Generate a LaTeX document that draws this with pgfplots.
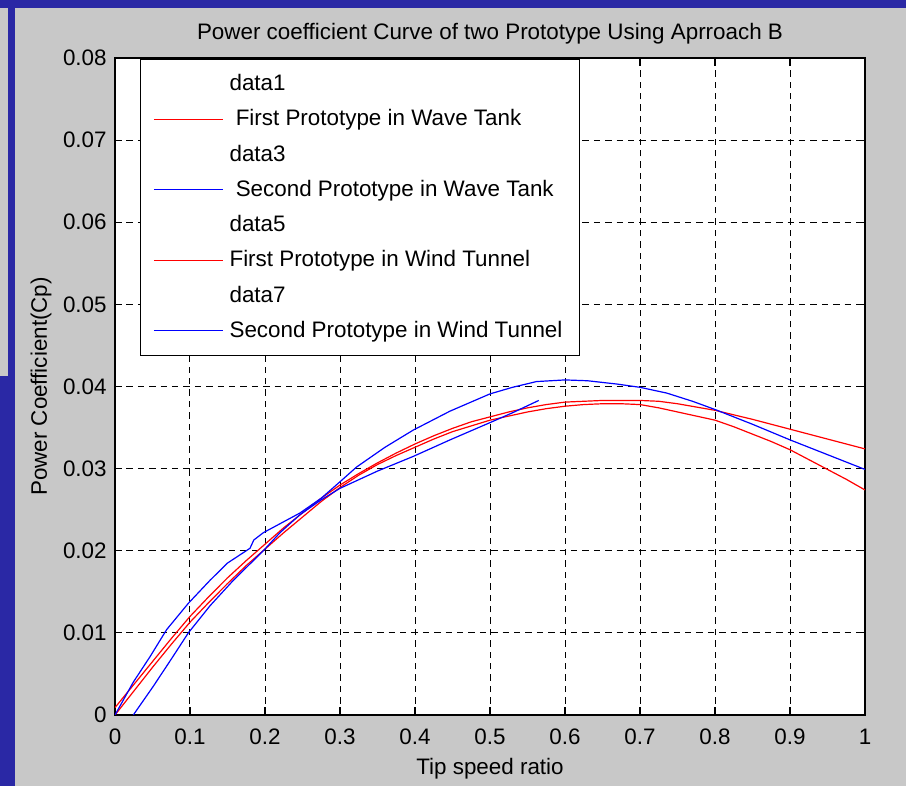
\documentclass[border=0pt]{standalone}
\usepackage{pgfplots}
\pgfplotsset{compat=1.18}
\usepackage{fontspec}
\setmainfont{Liberation Sans}
\definecolor{slideblue}{RGB}{42,40,165}
\definecolor{figgray}{RGB}{200,200,200}
\newcommand{\figfont}{\fontsize{11.2}{13}\selectfont}
% short straight legend samples
\pgfplotsset{
  redkey/.style={legend image code/.code={\path[draw=red, line width=0.6pt] (0pt,0pt) -- (34.5pt,0pt);}},
  bluekey/.style={legend image code/.code={\path[draw=blue, line width=0.6pt] (0pt,0pt) -- (34.5pt,0pt);}},
}

\begin{document}
\begin{tikzpicture}[x=1pt,y=1pt]
% slide background and figure window
\fill[slideblue] (0,0) rectangle (453,393);
\fill[figgray] (0,205) rectangle (4,389);
\fill[figgray] (7.5,0) rectangle (453,389);
\begin{axis}[
  at={(57.5pt,35.5pt)}, anchor=south west,
  scale only axis, width=375pt, height=328.5pt,
  xmin=0, xmax=1, ymin=0, ymax=0.08,
  xtick={0,0.1,0.2,0.3,0.4,0.5,0.6,0.7,0.8,0.9,1},
  xticklabels={0,0.1,0.2,0.3,0.4,0.5,0.6,0.7,0.8,0.9,1},
  ytick={0,0.01,0.02,0.03,0.04,0.05,0.06,0.07,0.08},
  yticklabels={0,0.01,0.02,0.03,0.04,0.05,0.06,0.07,0.08},
  scaled y ticks=false,
  /pgf/number format/assume math mode=true,
  tick align=inside, xtick pos=both, ytick pos=both,
  xticklabel pos=lower, yticklabel pos=left,
  major tick length=3.75pt,
  tick style={black, line width=0.6pt},
  grid=major,
  major grid style={black, line width=0.5pt, dash pattern=on 3.2pt off 2.5pt},
  axis line style={black, line width=0.9pt},
  axis background/.style={fill=white},
  ticklabel style={font=\figfont, inner sep=0pt},
  xticklabel style={anchor=base, yshift=-15pt},
  yticklabel style={anchor=east, xshift=-4pt},
  title={Power coefficient Curve of two Prototype Using Aprroach B},
  title style={at={(0.5,1)}, anchor=base, yshift=3.5pt, inner sep=0pt, font=\figfont},
  xlabel={Tip speed ratio},
  xlabel style={at={(axis description cs:0.5,0)}, anchor=base, yshift=-30pt, inner sep=0pt, font=\figfont},
  ylabel={Power Coefficient(Cp)},
  ylabel style={at={(axis description cs:0,0.5)}, anchor=base, yshift=34pt, inner sep=0pt, font=\figfont},
  legend cell align=left,
  legend style={at={(0.0333,0.9985)}, anchor=north west,
    fill=white, inner xsep=6.5pt, inner ysep=5.5pt, column sep=1pt, row sep=4pt,
    font=\figfont},
  legend image post style={},
]
% legend entries in plotting order
\addlegendimage{empty legend}\addlegendentry{data1}
\addlegendimage{redkey}\addlegendentry{\ First Prototype in Wave Tank}
\addlegendimage{empty legend}\addlegendentry{data3}
\addlegendimage{bluekey}\addlegendentry{\ Second Prototype in Wave Tank}
\addlegendimage{empty legend}\addlegendentry{data5}
\addlegendimage{redkey}\addlegendentry{First Prototype in Wind Tunnel}
\addlegendimage{empty legend}\addlegendentry{data7}
\addlegendimage{bluekey}\addlegendentry{Second Prototype in Wind Tunnel}

% first prototype, wave tank
\addplot[red, line width=0.6pt, forget plot] coordinates {
(0,0.0009) (0.025,0.0037) (0.05,0.0065) (0.075,0.0093) (0.1,0.0120)
(0.125,0.0144) (0.15,0.0167) (0.175,0.0188) (0.2,0.0208) (0.225,0.0228)
(0.25,0.0246) (0.275,0.0264) (0.3,0.0280) (0.325,0.0294) (0.35,0.0307)
(0.375,0.0319) (0.4,0.0330) (0.425,0.0340) (0.45,0.0349) (0.475,0.0357)
(0.5,0.0363) (0.525,0.0369) (0.55,0.0374) (0.575,0.0378) (0.6,0.0381)
(0.625,0.0382) (0.65,0.0383) (0.675,0.0383) (0.7,0.0383) (0.725,0.0382)
(0.75,0.0379) (0.775,0.0375) (0.8,0.0371) (0.85,0.0360) (0.9,0.0348)
(0.95,0.0336) (1.0,0.0324)};
% first prototype, wind tunnel
\addplot[red, line width=0.6pt, forget plot] coordinates {
(0,0.0) (0.025,0.0029) (0.05,0.0058) (0.075,0.0086) (0.1,0.0113)
(0.125,0.0137) (0.15,0.0160) (0.175,0.0182) (0.2,0.0202) (0.225,0.0222)
(0.25,0.0241) (0.275,0.0260) (0.3,0.0277) (0.325,0.0292) (0.35,0.0305)
(0.375,0.0316) (0.4,0.0326) (0.425,0.0336) (0.45,0.0345) (0.475,0.0352)
(0.5,0.0359) (0.525,0.0364) (0.55,0.0369) (0.575,0.0373) (0.6,0.0376)
(0.625,0.0378) (0.65,0.0379) (0.675,0.0379) (0.7,0.0378) (0.725,0.0374)
(0.75,0.0369) (0.775,0.0364) (0.8,0.0359) (0.825,0.0351) (0.85,0.0342)
(0.875,0.0333) (0.9,0.0323) (0.925,0.0311) (0.95,0.0299) (0.975,0.0287)
(1.0,0.0274)};
% second prototype, wind tunnel
\addplot[blue, line width=0.6pt, forget plot] coordinates {
(0,0) (0.0244,0.0040) (0.0467,0.0071) (0.0689,0.0104) (0.0978,0.0136)
(0.1267,0.0164) (0.15,0.0185) (0.18,0.0203) (0.185,0.0213) (0.1978,0.0222)
(0.2467,0.0246) (0.275,0.0264) (0.3,0.0284) (0.3222,0.0302) (0.36,0.0326)
(0.3978,0.0347) (0.4467,0.0370) (0.5,0.0391) (0.53,0.0399) (0.562,0.0406)
(0.6,0.0408) (0.63,0.0407) (0.669,0.0403) (0.7,0.0399) (0.7356,0.0392)
(0.77,0.0382) (0.8,0.0372) (0.85,0.0354) (0.9,0.0335) (0.95,0.0317)
(1.0,0.0299)};
% second prototype, wave tank
\addplot[blue, line width=0.6pt, forget plot] coordinates {
(0.0244,0) (0.0511,0.0035) (0.075,0.0068) (0.0978,0.0100) (0.1267,0.0133)
(0.1578,0.0164) (0.1978,0.0200) (0.22,0.0222) (0.2467,0.0244) (0.275,0.0262)
(0.3,0.0276) (0.35,0.0297) (0.398,0.0315) (0.4467,0.0335) (0.5,0.0356)
(0.53,0.0368) (0.565,0.0383)};
\end{axis}
\end{tikzpicture}
\end{document}
